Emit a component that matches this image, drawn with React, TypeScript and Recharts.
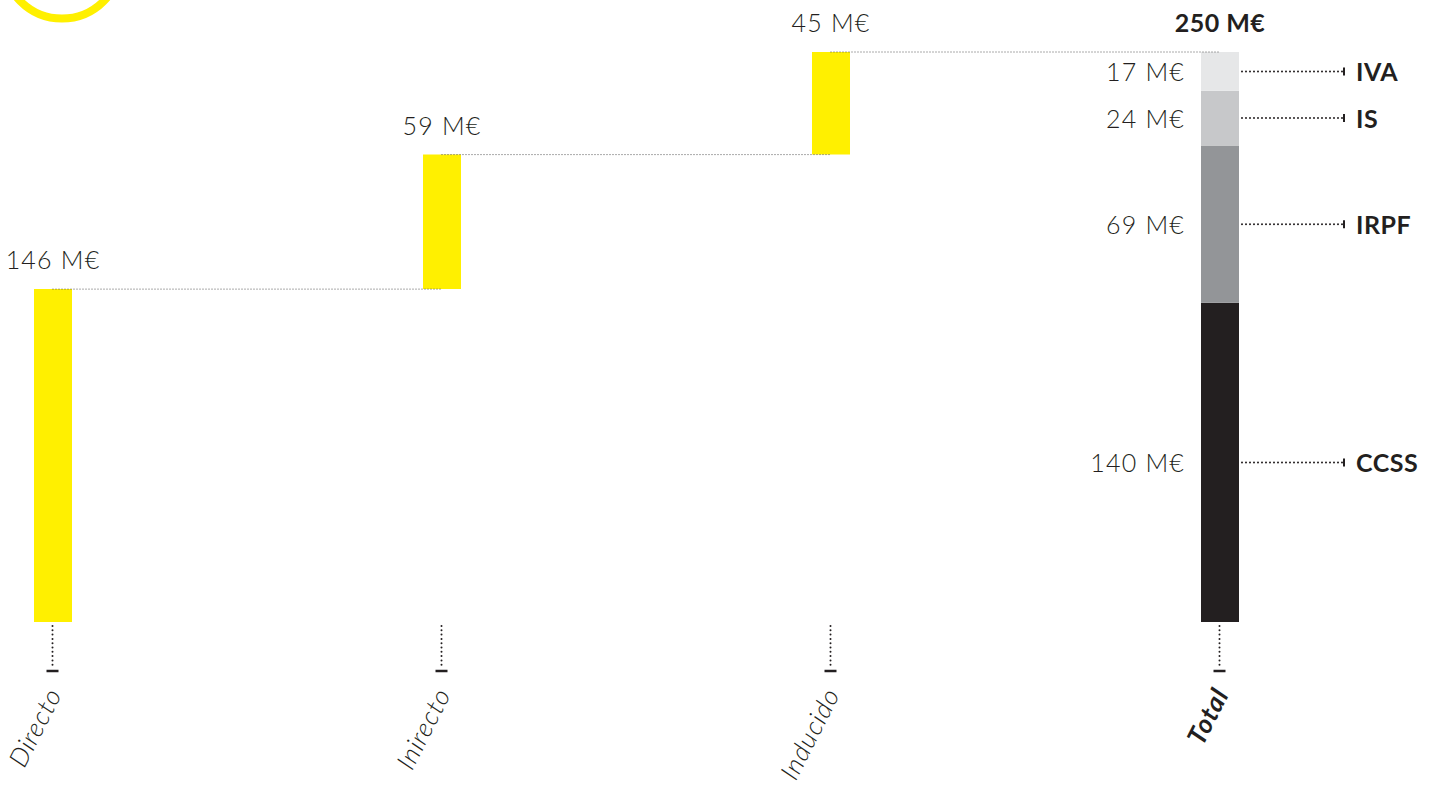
import { BarChart, Bar, XAxis, YAxis, ReferenceLine, LabelList } from 'recharts'

const categorias = ['Directo', 'Inirecto', 'Inducido', 'Total']
const efectos = [146, 59, 45]
const impuestos = ['CCSS', 'IRPF', 'IS', 'IVA']
const recaudacion = [140, 69, 24, 17]
const grises = ['#231F20', '#939598', '#C7C8CA', '#E6E7E8']

const AMARILLO = '#FFF000'
const TINTA = '#231F20'
const FUENTE = 'Lato, "Open Sans", sans-serif'

// acumulado para la cascada
const acumulado = efectos.map((_, i) => efectos.slice(0, i + 1).reduce((a, b) => a + b, 0))
const totalRecaudado = recaudacion.reduce((a, b) => a + b, 0)

const data = categorias.map((cat, i) => {
  const row: Record<string, any> = { cat }
  if (i < efectos.length) {
    row.base = i === 0 ? 0 : acumulado[i - 1]
    row.efecto = efectos[i]
  } else {
    impuestos.forEach((imp, j) => (row[imp] = recaudacion[j]))
    row.total = totalRecaudado
  }
  return row
})

function CategoryTick(props: any) {
  const { x, y, payload } = props
  const esTotal = payload.value === 'Total'
  const tx = x + 10
  const ty = y + 72
  return (
    <g>
      <line x1={x} x2={x} y1={y + 4} y2={y + 46} stroke={TINTA} strokeWidth={2}
        strokeDasharray="0 4.3" strokeLinecap="round" />
      <line x1={x - 6} x2={x + 6} y1={y + 49} y2={y + 49} stroke={TINTA} strokeWidth={2.5} />
      <text x={tx} y={ty} transform={`rotate(-63 ${tx} ${ty})`} textAnchor="end"
        fontFamily={FUENTE} fontSize={26} fontStyle="italic" fontWeight={esTotal ? 700 : 300}
        letterSpacing={1} fill={TINTA}>
        {payload.value}
      </text>
    </g>
  )
}

function ValueLabel(props: any) {
  const { x, y, width, value } = props
  if (value == null) return null
  return (
    <text x={x + width / 2} y={y - 20} textAnchor="middle"
      fontFamily={FUENTE} fontSize={25} fontWeight={300} letterSpacing={1.2} fill={TINTA}>
      {`${value} M€`}
    </text>
  )
}

function segmentLabel(nombre: string) {
  return (props: any) => {
    const { x, y, width, height, value } = props
    if (value == null) return null
    const cy = y + height / 2
    const x0 = x + width
    return (
      <g>
        <text x={x - 16} y={cy} textAnchor="end" dominantBaseline="central"
          fontFamily={FUENTE} fontSize={25} fontWeight={300} letterSpacing={1.2} fill={TINTA}>
          {`${value} M€`}
        </text>
        <line x1={x0 + 3} x2={x0 + 104} y1={cy} y2={cy} stroke={TINTA} strokeWidth={2}
          strokeDasharray="0 4" strokeLinecap="round" />
        <line x1={x0 + 105} x2={x0 + 105} y1={cy - 4} y2={cy + 4} stroke={TINTA} strokeWidth={2} />
        <text x={x0 + 117} y={cy} dominantBaseline="central"
          fontFamily={FUENTE} fontSize={25} fontWeight={700} letterSpacing={0.5} fill={TINTA}>
          {nombre}
        </text>
      </g>
    )
  }
}

function TotalLabel(props: any) {
  const { x, y, width, value } = props
  if (value == null) return null
  return (
    <text x={x + width / 2} y={y - 20} textAnchor="middle"
      fontFamily={FUENTE} fontSize={25} fontWeight={700} letterSpacing={0.5} fill={TINTA}>
      {`${value} M€`}
    </text>
  )
}

export default function App() {
  return (
    <div style={{ position: 'absolute', left: 0, top: 0, width: 1443, height: 785, overflow: 'hidden', background: '#fff' }}>
      <BarChart
        width={1706}
        height={785}
        data={data}
        margin={{ top: 52, right: 150, bottom: 0, left: 0 }}
        style={{ position: 'absolute', left: -142.5, top: 0 }}
      >
        <XAxis dataKey="cat" height={163} axisLine={false} tickLine={false}
          tickSize={0} tickMargin={0} interval={0} tick={<CategoryTick />} />
        <YAxis hide domain={[0, 250]} />
        {acumulado.map((v, i) => (
          <ReferenceLine key={i}
            segment={[{ x: categorias[i], y: v }, { x: categorias[i + 1], y: v }]}
            stroke="#555" strokeWidth={1} strokeDasharray="1 2" />
        ))}
        <Bar dataKey="base" stackId="a" fill="transparent" barSize={38} isAnimationActive={false} />
        <Bar dataKey="efecto" stackId="a" fill={AMARILLO} barSize={38} isAnimationActive={false}>
          <LabelList dataKey="efecto" content={ValueLabel} />
        </Bar>
        {impuestos.map((imp, j) => (
          <Bar key={imp} dataKey={imp} stackId="a" fill={grises[j]} barSize={38} isAnimationActive={false}>
            <LabelList dataKey={imp} content={segmentLabel(imp)} />
            {j === impuestos.length - 1 && <LabelList dataKey="total" content={TotalLabel} />}
          </Bar>
        ))}
      </BarChart>
      <svg width={160} height={40} style={{ position: 'absolute', left: 0, top: 0 }}>
        <circle cx={62} cy={-40} r={58.6} fill="none" stroke={AMARILLO} strokeWidth={8} />
      </svg>
    </div>
  )
}
